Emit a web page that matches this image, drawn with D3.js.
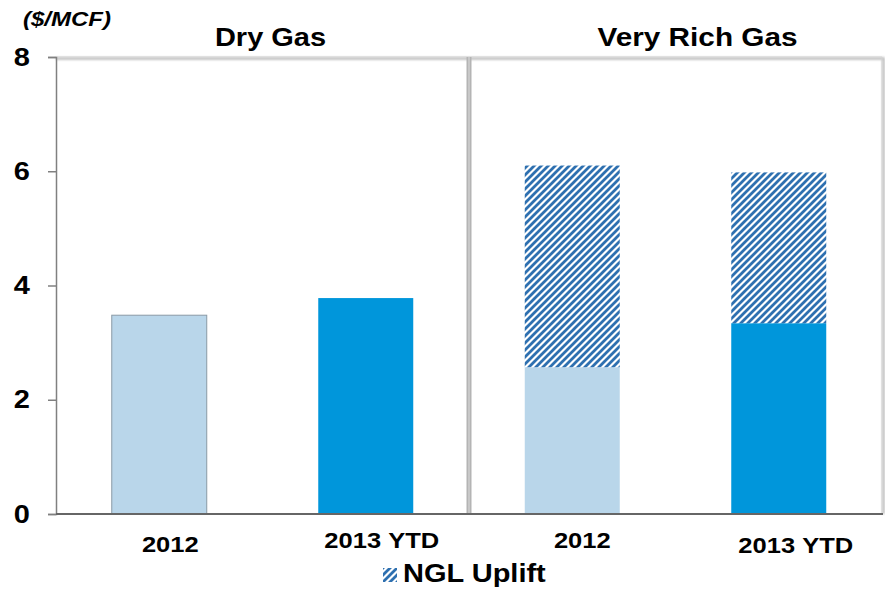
<!DOCTYPE html>
<html>
<head>
<meta charset="utf-8">
<script src="https://cdn.jsdelivr.net/npm/d3@7"></script>
<style>
  html, body { margin: 0; padding: 0; background: #fff; }
  svg { display: block; font-family: "Liberation Sans", Arial, sans-serif; }
</style>
</head>
<body>
<svg id="chart" width="885" height="590"></svg>
<script>
// Realized price per MCF, dry gas vs. very rich gas
const categories = ["2012", "2013 YTD", "2012", "2013 YTD"];
const groups = ["Dry Gas", "Very Rich Gas"];
const groupOf = [0, 0, 1, 1];
const baseValues = [3.48, 3.78, 2.57, 3.34];
const ngUplift = [0, 0, 3.53, 2.64];
const yTicks = [0, 2, 4, 6, 8];
const unitLabel = "($/MCF)";
const legendLabel = "NGL Uplift";

const colors = { light: "#b9d6ea", bright: "#0096db", hatch: "#2e70b0" };
const baseColor = ["light", "bright", "light", "bright"];

const svg = d3.select("#chart");
const plotL = 56, plotR = 882, plotT = 57, plotB = 514;
const STRETCH = 1.16; // wide bold lettering

// bold text drawn slightly wider than the font's natural width
function wideText(parent, px, py, anchor, size, str, italic, stretch) {
  return parent.append("text")
    .attr("transform", `translate(${px},${py}) scale(${stretch || STRETCH},1)`)
    .attr("text-anchor", anchor).attr("font-size", size).attr("font-weight", "bold")
    .attr("font-style", italic ? "italic" : "normal").attr("fill", "#000")
    .text(str);
}

const defs = svg.append("defs");
const P = 7;
const pat = defs.append("pattern")
  .attr("id", "hatch").attr("patternUnits", "userSpaceOnUse")
  .attr("width", P).attr("height", P);
pat.append("rect").attr("width", P).attr("height", P).attr("fill", "#fff");
pat.append("path")
  .attr("d", `M-2,2 L2,-2 M0,${P} L${P},0 M${P - 2},${P + 2} L${P + 2},${P - 2}`)
  .attr("stroke", colors.hatch).attr("stroke-width", 2.8);

const shadow = defs.append("filter").attr("id", "soft")
  .attr("x", "-5%").attr("y", "-50%").attr("width", "110%").attr("height", "300%");
shadow.append("feGaussianBlur").attr("stdDeviation", 1.2);

const x = d3.scaleBand().domain(d3.range(categories.length))
  .range([plotL, plotR]).paddingInner(0.54).paddingOuter(0.27);
const y = d3.scaleLinear().domain([0, 8]).range([plotB, plotT]);

// plot frame: top and right edges with a soft shadow
svg.append("path")
  .attr("d", `M${plotL},${plotT + 1.5} H${plotR + 1.5} V${plotB}`)
  .attr("fill", "none").attr("stroke", "#bbb").attr("stroke-width", 2.5)
  .attr("filter", "url(#soft)");
svg.append("path")
  .attr("d", `M${plotL},${plotT} H${plotR} V${plotB}`)
  .attr("fill", "none").attr("stroke", "#d4d4d4").attr("stroke-width", 1);

// divider between the two gas types
const divX = (x(1) + x.bandwidth() + x(2)) / 2;
svg.append("rect").attr("x", divX - 2.5).attr("y", plotT).attr("width", 5)
  .attr("height", plotB - plotT).attr("fill", "#b4b4b4");
svg.append("rect").attr("x", divX - 1).attr("y", plotT).attr("width", 2)
  .attr("height", plotB - plotT).attr("fill", "#c8c8c8");

// bars
const bars = svg.append("g");
categories.forEach((c, i) => {
  bars.append("rect")
    .attr("x", x(i)).attr("width", x.bandwidth())
    .attr("y", y(baseValues[i])).attr("height", y(0) - y(baseValues[i]))
    .attr("fill", colors[baseColor[i]])
    .attr("stroke", i === 0 ? "#8a9aa6" : "none").attr("stroke-width", 1);
  if (ngUplift[i] > 0) {
    const tot = baseValues[i] + ngUplift[i];
    bars.append("rect")
      .attr("x", x(i)).attr("width", x.bandwidth())
      .attr("y", y(tot)).attr("height", y(baseValues[i]) - y(tot))
      .attr("fill", "url(#hatch)");
  }
});

// y axis
const yAxis = d3.axisLeft(y).tickValues(yTicks).tickSize(8).tickPadding(18)
  .tickFormat(d3.format("d"));
const ga = svg.append("g").attr("transform", `translate(${plotL},0)`).call(yAxis);
ga.select(".domain").attr("stroke", "#808080").attr("stroke-width", 1.5);
ga.selectAll(".tick line").attr("stroke", "#808080").attr("stroke-width", 1.5);
ga.selectAll(".tick text")
  .attr("transform", `translate(-26,0) scale(${STRETCH},1)`).attr("x", 0)
  .attr("font-size", 25).attr("font-weight", "bold")
  .attr("fill", "#000").attr("font-family", "Liberation Sans, Arial, sans-serif");

// x baseline with shadow
svg.append("line").attr("x1", plotL).attr("x2", plotR + 1).attr("y1", plotB + 2).attr("y2", plotB + 2)
  .attr("stroke", "#aaa").attr("stroke-width", 3).attr("filter", "url(#soft)");
svg.append("line").attr("x1", plotL).attr("x2", plotR + 1).attr("y1", plotB).attr("y2", plotB)
  .attr("stroke", "#666").attr("stroke-width", 2);

// category labels
const labelDy = [38, 34, 34, 39];
const labelDx = [11, 16, 10, 17];
categories.forEach((c, i) => {
  wideText(svg, x(i) + x.bandwidth() / 2 + labelDx[i], plotB + labelDy[i],
    "middle", 22, c.replace(" ", "\u00a0"));
});

// group titles
const titleDx = [8, 22];
groups.forEach((g, gi) => {
  const idx = groupOf.map((v, i) => v === gi ? i : -1).filter(i => i >= 0);
  const cx = (x(idx[0]) + x(idx[idx.length - 1]) + x.bandwidth()) / 2;
  wideText(svg, cx + titleDx[gi], 46, "middle", 25, g, false, gi === 1 ? 1.19 : STRETCH);
});

// unit label
wideText(svg, 23, 26, "start", 20, unitLabel, true, 1.2);

// legend
const lg = svg.append("g").attr("transform", "translate(383,568)");
lg.append("rect").attr("width", 14).attr("height", 14).attr("fill", "url(#hatch)");
wideText(lg, 20, 14, "start", 25, legendLabel);
</script>
</body>
</html>
